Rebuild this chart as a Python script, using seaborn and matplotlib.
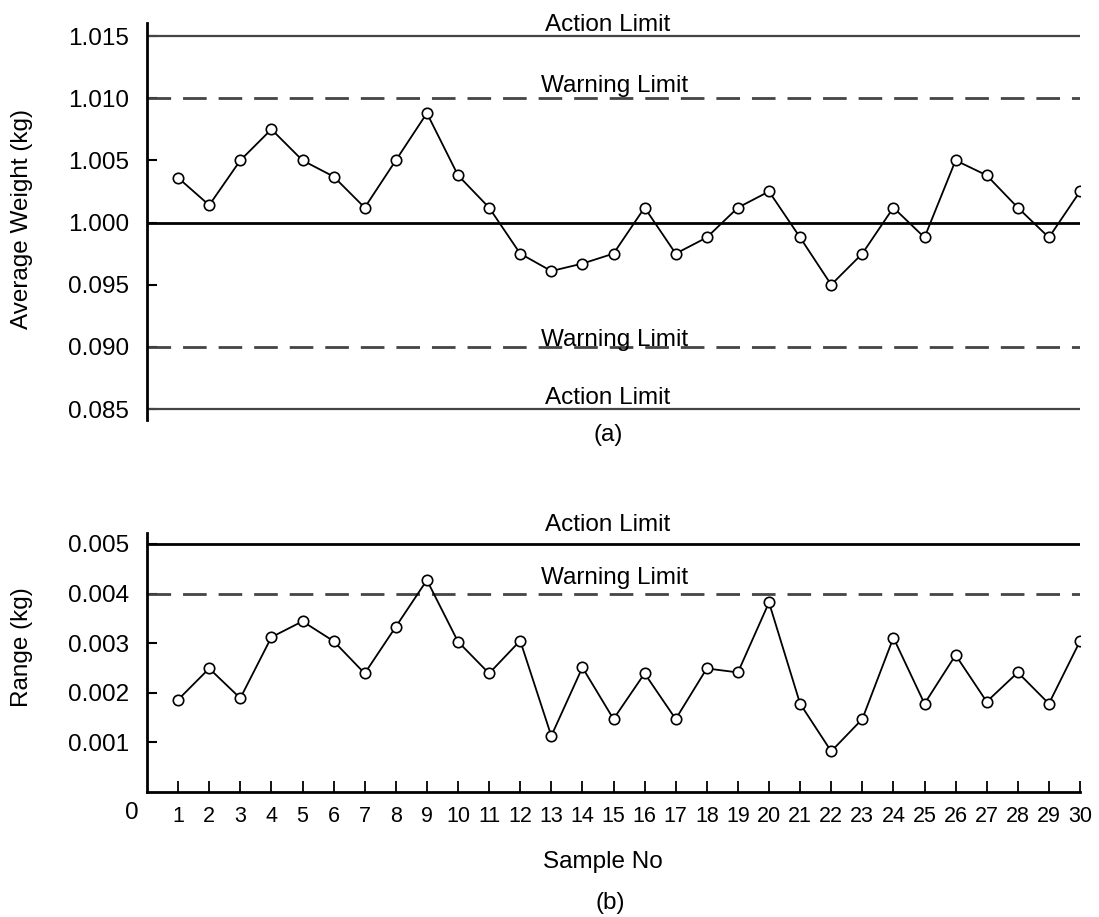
import matplotlib
matplotlib.use("Agg")
import matplotlib.pyplot as plt
import seaborn as sns
import pandas as pd

# ---------------- data ----------------
samples = list(range(1, 31))
avg_weight = [1.0036, 1.0014, 1.0050, 1.0075, 1.0050, 1.0037, 1.0012, 1.0050, 1.0088, 1.0038,
              1.0012, 0.9975, 0.9961, 0.9967, 0.9975, 1.0012, 0.9975, 0.9988, 1.0012, 1.0025,
              0.9988, 0.9950, 0.9975, 1.0012, 0.9988, 1.0050, 1.0038, 1.0012, 0.9988, 1.0025]
range_kg = [0.00186, 0.00249, 0.00189, 0.00312, 0.00344, 0.00304, 0.00239, 0.00333, 0.00427, 0.00303,
            0.00239, 0.00305, 0.00113, 0.00251, 0.00147, 0.00239, 0.00147, 0.00249, 0.00241, 0.00382,
            0.00178, 0.00082, 0.00147, 0.00311, 0.00178, 0.00276, 0.00182, 0.00241, 0.00178, 0.00304]

top_ticks = [0.985, 0.990, 0.995, 1.000, 1.005, 1.010, 1.015]
top_tick_labels = ["0.085", "0.090", "0.095", "1.000", "1.005", "1.010", "1.015"]
bot_ticks = [0.001, 0.002, 0.003, 0.004, 0.005]
bot_tick_labels = ["0.001", "0.002", "0.003", "0.004", "0.005"]

top_action = [1.015, 0.985]
top_warning = [1.010, 0.990]
top_centre = 1.000
bot_action = 0.005
bot_warning = 0.004

# ---------------- style ----------------
sns.set_style("ticks")
plt.rcParams["font.family"] = ["Liberation Sans", "DejaVu Sans"]
plt.rcParams["lines.scale_dashes"] = False
for key in ["text.color", "axes.labelcolor", "xtick.color", "ytick.color",
            "xtick.labelcolor", "ytick.labelcolor", "axes.edgecolor"]:
    plt.rcParams[key] = "black"

W, H = 1099, 917
fig = plt.figure(figsize=(W / 100, H / 100), dpi=100)

def px_axes(left, top, right, bottom):
    return fig.add_axes([left / W, 1 - bottom / H, (right - left) / W, (bottom - top) / H])

ax1 = px_axes(147, 23, 1080, 420)
ax2 = px_axes(147, 533, 1080, 792)

dash = (17, 8.6)
grey = "#444444"
FS = 17.5

df = pd.DataFrame({"Sample No": samples, "Average": avg_weight, "Range": range_kg})

line_kw = dict(color="black", linewidth=1.3, marker="o", markersize=7.5,
               markerfacecolor="white", markeredgecolor="black", markeredgewidth=1.2,
               zorder=5)

# ---------------- top chart ----------------
for y in top_action:
    ax1.axhline(y, color=grey, linewidth=1.6, zorder=2)
for y in top_warning:
    ax1.axhline(y, color=grey, linewidth=2.0, dashes=dash, zorder=2)
ax1.axhline(top_centre, color="black", linewidth=2.0, zorder=2)
sns.lineplot(data=df, x="Sample No", y="Average", ax=ax1, **line_kw)

ax1.set_xlim(0, 30)
ax1.set_ylim(0.98412, 1.01605)
ax1.set_yticks(top_ticks)
ax1.set_yticklabels(top_tick_labels)
ax1.set_xticks([])
ax1.set_xlabel("")
ax1.set_ylabel("Average Weight (kg)", fontsize=FS)
ax1.yaxis.set_label_coords(-0.134, 0.506)
ax1.yaxis.label.set_verticalalignment("center")
for s in ["top", "right", "bottom"]:
    ax1.spines[s].set_visible(False)
ax1.spines["left"].set_linewidth(2.0)
ax1.tick_params(axis="y", direction="in", length=7, width=1.5, pad=13, labelsize=FS)

def limit_label(ax, text, x, y, off):
    ax.annotate(text, xy=(x, y), xytext=(0, off), textcoords="offset points",
                ha="center", va="baseline", fontsize=FS, zorder=6)

limit_label(ax1, "Action Limit", 14.8, top_action[0], 3.6)
limit_label(ax1, "Warning Limit", 15.05, top_warning[0], 4.3)
limit_label(ax1, "Warning Limit", 15.05, top_warning[1], 0.7)
limit_label(ax1, "Action Limit", 14.8, top_action[1], 3.6)

fig.text(608 / W, 1 - 435 / H, "(a)", ha="center", va="center", fontsize=FS)

# ---------------- bottom chart ----------------
ax2.axhline(bot_action, color="black", linewidth=2.0, zorder=2)
ax2.axhline(bot_warning, color=grey, linewidth=2.0, dashes=dash, zorder=2)
sns.lineplot(data=df, x="Sample No", y="Range", ax=ax2, **line_kw)

ax2.set_xlim(0, 30)
ax2.set_ylim(0, 0.00522)
ax2.set_yticks(bot_ticks)
ax2.set_yticklabels(bot_tick_labels)
ax2.set_xticks(samples)
ax2.set_xticklabels([str(s) for s in samples])
ax2.set_ylabel("Range (kg)", fontsize=FS)
ax2.yaxis.set_label_coords(-0.134, 0.56)
ax2.yaxis.label.set_verticalalignment("center")
ax2.set_xlabel("Sample No", fontsize=FS)
ax2.xaxis.set_label_coords(0.489, -0.27)
ax2.xaxis.label.set_verticalalignment("center")
for s in ["top", "right"]:
    ax2.spines[s].set_visible(False)
ax2.spines["left"].set_linewidth(2.0)
ax2.spines["bottom"].set_linewidth(2.0)
ax2.tick_params(axis="y", direction="in", length=7, width=1.5, pad=13, labelsize=FS)
ax2.tick_params(axis="x", direction="in", length=8, width=1.3, pad=10, labelsize=15.5)

limit_label(ax2, "Action Limit", 14.8, bot_action, 9.4)
limit_label(ax2, "Warning Limit", 15.05, bot_warning, 7.0)

fig.text(132 / W, 1 - 813 / H, "0", ha="center", va="center", fontsize=FS)
fig.text(610 / W, 1 - 903 / H, "(b)", ha="center", va="center", fontsize=FS)

fig.savefig("out.png", dpi=100)
